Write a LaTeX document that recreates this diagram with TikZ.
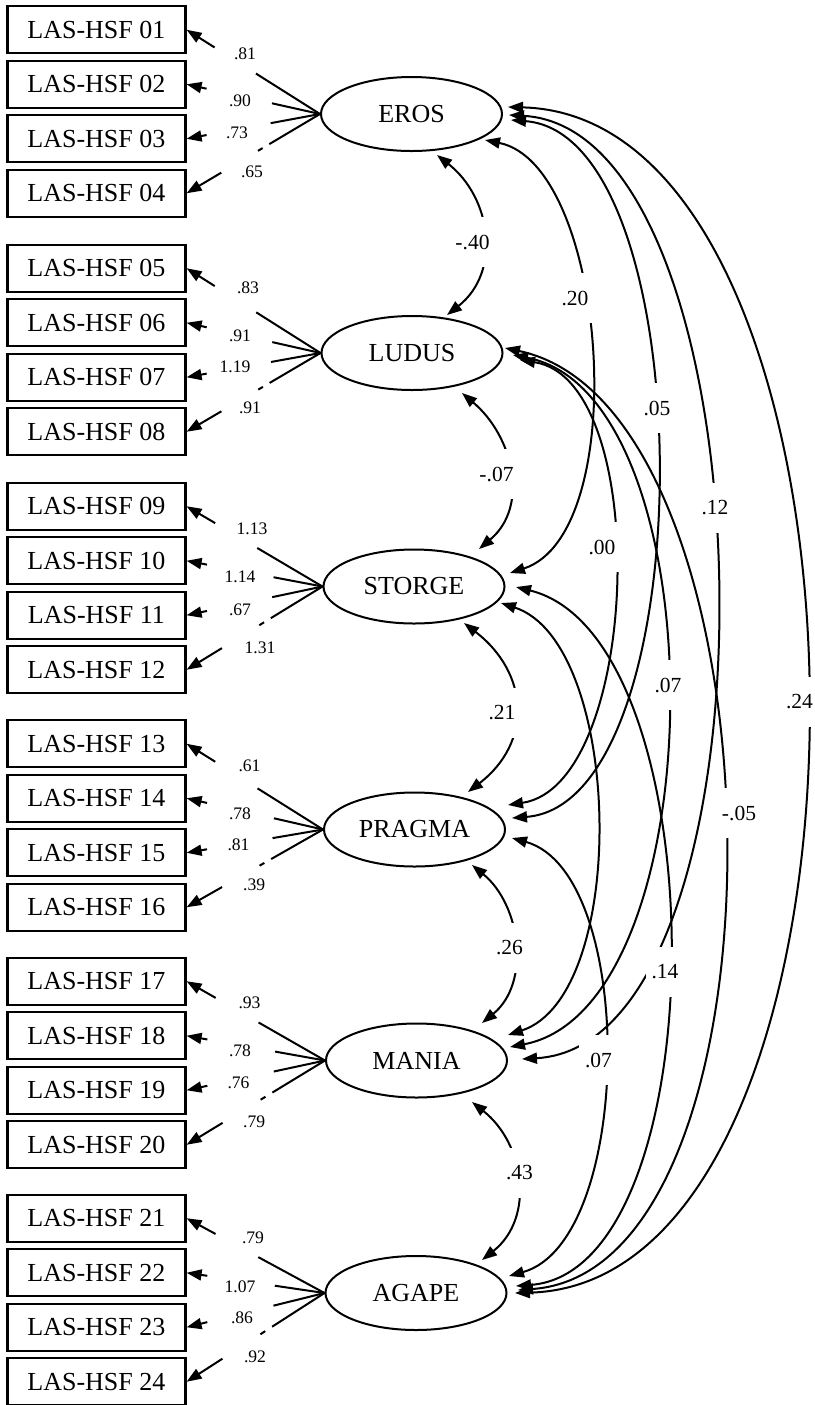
\documentclass[tikz,border=0pt]{standalone}
\usepackage{fontspec}
\setmainfont{Liberation Serif}
\usetikzlibrary{arrows.meta,calc,shapes.geometric}

\tikzset{
  >={Triangle[length=7.5pt,width=5.5pt]},
  lat/.style={ellipse, draw, line width=1pt, minimum width=90.5pt,
    minimum height=37pt, inner sep=0pt, font=\fontsize{13}{15}\selectfont},
  obs/.style={rectangle, draw, line width=1.2pt, minimum width=89pt,
    minimum height=23.5pt, inner sep=0pt, font=\fontsize{13}{15}\selectfont},
  ln/.style={line width=1pt},
  ld/.style={font=\fontsize{8.8}{10}\selectfont, inner sep=0pt},
  cv/.style={line width=1pt, <->},
  cl/.style={font=\fontsize{10.75}{12}\selectfont, fill=white,
    inner xsep=3pt, inner ysep=0pt, minimum height=25pt},
}

\begin{document}
\begin{tikzpicture}[x=0.5pt, y=-0.5pt]
\path[use as bounding box, fill=white] (0,0) rectangle (815,1405);

% latent factors
\node[lat] (E) at (411.5,114)  {EROS};
\node[lat] (L) at (412,353)    {LUDUS};
\node[lat] (S) at (414,586.5)  {STORGE};
\node[lat] (P) at (414.5,829.5){PRAGMA};
\node[lat] (M) at (416.5,1060.5){MANIA};
\node[lat] (A) at (416,1293)   {AGAPE};

% observed items
\foreach \n/\y in {01/29.75,02/84.25,03/138.75,04/193.25,
                   05/268.25,06/322.75,07/377.25,08/431.75,
                   09/506.25,10/560.75,11/615.25,12/669.75,
                   13/743.75,14/798.25,15/852.75,16/907.25,
                   17/981.25,18/1035.75,19/1090.25,20/1144.75,
                   21/1218.25,22/1272.75,23/1327.25,24/1381.75}
  \node[obs] (b\n) at (96.4,\y) {LAS-HSF \n};

% factor loadings: each line is broken where its value sits
\foreach \f/\a/\b/\c/\d in {E/01/02/03/04, L/05/06/07/08, S/09/10/11/12,
                            P/13/14/15/16, M/17/18/19/20, A/21/22/23/24}{
  \draw[ln] (\f.west) -- ($(\f.west)!0.48!(b\a.east)$);
  \draw[ln,->] ($(\f.west)!0.79!(b\a.east)$) -- (b\a.east);
  \draw[ln] (\f.west) -- ($(\f.west)!0.36!(b\b.east)$);
  \draw[ln,->] ($(\f.west)!0.85!(b\b.east)$) -- (b\b.east);
  \draw[ln] (\f.west) -- ($(\f.west)!0.37!(b\c.east)$);
  \draw[ln,->] ($(\f.west)!0.85!(b\c.east)$) -- (b\c.east);
  \draw[ln] (\f.west) -- ($(\f.west)!0.38!(b\d.east)$);
  \draw[ln] ($(\f.west)!0.43!(b\d.east)$) -- ($(\f.west)!0.465!(b\d.east)$);
  \draw[ln,->] ($(\f.west)!0.74!(b\d.east)$) -- (b\d.east);
}

% loading values
\foreach \i/\x/\y/\t in {1/245/54/.81, 2/240/101/.90, 3/237/133/.73, 4/252/172/.65,
  5/248/288/.83, 6/240/336/.91, 7/235/367/1.19, 8/250/408/.91,
  9/252/529/1.13, 10/240/577/1.14, 11/240/610/.67, 12/260/648/1.31,
  13/249.5/765.4/.61, 14/240/813.3/.78, 15/238.5/845.2/.81, 16/254.2/884.4/.39,
  17/249.5/1002.9/.93, 18/240/1050.8/.78, 19/238.5/1082.7/.76, 20/254.2/1121.9/.79,
  21/253/1238/.79, 22/240/1287/1.07, 23/242/1318/.86, 24/255/1357/.92}
  \node[ld] (w\i) at (\x,\y) {\t};

% correlations between neighbouring factors
\draw[cv] ($(E)+(25.5,41)$)  .. controls (491.7,198) and (501.7,272) .. ($(L)+(35,-38)$);
\draw[cv] ($(L)+(50,40)$)    .. controls (513,436) and (530,506)     .. ($(S)+(65,-37.5)$);
\draw[cv] ($(S)+(50,36.5)$)  .. controls (529,673) and (533,742)     .. ($(P)+(53.5,-37.5)$);
\draw[cv] ($(P)+(57.5,35.5)$) .. controls (521,905) and (531,983)    .. ($(M)+(65.5,-37.5)$);
\draw[cv] ($(M)+(55.5,41.5)$) .. controls (525,1144) and (535,1218)  .. ($(A)+(66,-33)$);

% longer correlation arcs on the right
\draw[cv] ($(E)+(73.5,26)$)  .. controls (608,165) and (633,533)   .. ($(S)+(96,-13.5)$);
\draw[cv] ($(E)+(99.5,6)$)   .. controls (704,135) and (705,803)   .. ($(P)+(97.5,-11.5)$);
\draw[cv] ($(E)+(97.5,1)$)   .. controls (776,130) and (789,1044)  .. ($(M)+(105.5,-1.5)$);
\draw[cv] ($(E)+(96.5,-7)$)  .. controls (901,117) and (908,1283)  .. ($(A)+(99,0)$);
\draw[cv] ($(L)+(108,7)$)    .. controls (653,380) and (641,785)   .. ($(P)+(93.5,-24.5)$);
\draw[cv] ($(L)+(101,2)$)    .. controls (720,395) and (717,1007)  .. ($(M)+(93.5,-13.5)$);
\draw[cv] ($(L)+(93,-5)$)    .. controls (788,408) and (801,1270)  .. ($(A)+(102,-3)$);
\draw[cv] ($(S)+(87,16.5)$)  .. controls (623,643) and (630,995)   .. ($(M)+(91.5,-25.5)$);
\draw[cv] ($(S)+(102,0.5)$)  .. controls (719,637) and (719,1271)  .. ($(A)+(100,-7)$);
\draw[cv] ($(P)+(97.5,8.5)$) .. controls (637,873) and (634,1241)  .. ($(A)+(93,-17)$);

% correlation values
\node[cl] (rEL) at (472.5,242) {-.40};
\node[cl] (rES) at (575,298)   {.20};
\node[cl] (rEP) at (657,408)   {.05};
\node[cl] (rEM) at (715,508)   {.12};
\node[cl] (rEA) at (799.5,702) {.24};
\node[cl] (rLS) at (496.5,474) {-.07};
\node[cl] (rLP) at (602,547)   {.00};
\node[cl] (rLM) at (668,685)   {.07};
\node[cl] (rLA) at (739,813)   {-.05};
\node[cl] (rSP) at (502,713)   {.21};
\node[cl] (rSA) at (665,972)   {.14};
\node[cl] (rPM) at (509.5,948) {.26};
\node[cl] (rPA) at (598.5,1060){.07};
\node[cl] (rMA) at (519.5,1173){.43};
\end{tikzpicture}
\end{document}
